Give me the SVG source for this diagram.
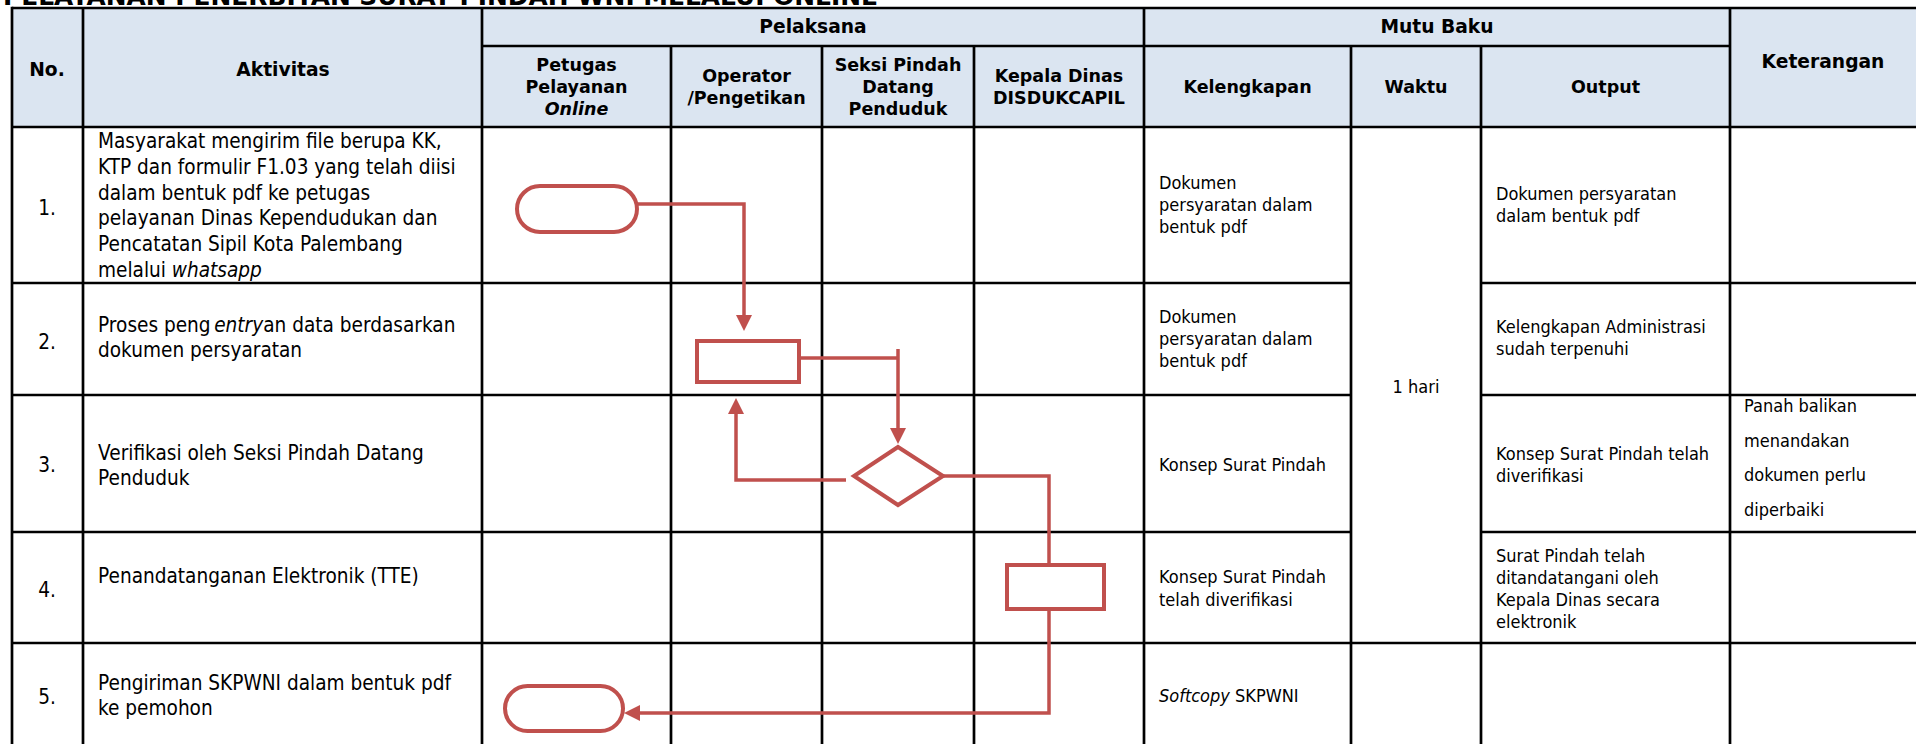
<svg xmlns="http://www.w3.org/2000/svg" width="1916" height="744" viewBox="0 0 1916 744">
<style>
.g line{stroke:#000;stroke-width:2.7}
.h{font-family:"DejaVu Sans",Verdana,sans-serif;font-weight:bold;font-size:17.5px;fill:#000;text-anchor:middle}
.H{font-size:18.7px}
.b{font-family:"DejaVu Sans",Verdana,sans-serif;font-size:20.6px;fill:#000}
.s{font-family:"DejaVu Sans",Verdana,sans-serif;font-size:18px;fill:#000}
.m{text-anchor:middle}
.i{font-style:italic}
.shape{fill:#fff;stroke:#C0504D;stroke-width:4}
.conn path{fill:none;stroke:#C0504D;stroke-width:3.5}
</style>
<defs>
<marker id="ah" markerUnits="userSpaceOnUse" markerWidth="16" markerHeight="16" refX="8" refY="8" orient="auto">
<path d="M0,0 L16,8 L0,16 z" fill="#C0504D"/>
</marker>
</defs>
<rect width="1916" height="744" fill="#fff"/>
<text x="3" y="5" font-family="DejaVu Sans, Verdana, sans-serif" font-weight="bold" font-size="24.5" textLength="875" lengthAdjust="spacingAndGlyphs">PELAYANAN PENERBITAN SURAT PINDAH WNI MELALUI ONLINE</text>
<g id="table">
<rect x="12" y="8" width="1904" height="119" fill="#DBE5F1"/>
<g class="g">
<line x1="12" y1="8" x2="1916" y2="8"/>
<line x1="482" y1="46" x2="1730" y2="46"/>
<line x1="12" y1="127" x2="1916" y2="127"/>
<line x1="12" y1="283" x2="1351" y2="283"/>
<line x1="1481" y1="283" x2="1916" y2="283"/>
<line x1="12" y1="395" x2="1351" y2="395"/>
<line x1="1481" y1="395" x2="1916" y2="395"/>
<line x1="12" y1="532" x2="1351" y2="532"/>
<line x1="1481" y1="532" x2="1916" y2="532"/>
<line x1="12" y1="643" x2="1916" y2="643"/>
<line x1="12" y1="6.7" x2="12" y2="744"/>
<line x1="83" y1="8" x2="83" y2="744"/>
<line x1="482" y1="8" x2="482" y2="744"/>
<line x1="671" y1="46" x2="671" y2="744"/>
<line x1="822" y1="46" x2="822" y2="744"/>
<line x1="974" y1="46" x2="974" y2="744"/>
<line x1="1144" y1="8" x2="1144" y2="744"/>
<line x1="1351" y1="46" x2="1351" y2="744"/>
<line x1="1481" y1="46" x2="1481" y2="744"/>
<line x1="1730" y1="8" x2="1730" y2="744"/>
</g>
<text class="h H" x="47" y="76">No.</text>
<text class="h H" x="283" y="76">Aktivitas</text>
<text class="h H" x="813" y="33">Pelaksana</text>
<text class="h H" x="1437" y="33">Mutu Baku</text>
<text class="h H" x="1823" y="68">Keterangan</text>
<text class="h"><tspan x="576.5" y="71">Petugas</tspan><tspan x="576.5" y="93">Pelayanan</tspan><tspan x="576.5" y="115" font-style="italic">Online</tspan></text>
<text class="h"><tspan x="746.5" y="82">Operator</tspan><tspan x="746.5" y="104">/Pengetikan</tspan></text>
<text class="h"><tspan x="898" y="71">Seksi Pindah</tspan><tspan x="898" y="93">Datang</tspan><tspan x="898" y="115">Penduduk</tspan></text>
<text class="h"><tspan x="1059" y="82">Kepala Dinas</tspan><tspan x="1059" y="104">DISDUKCAPIL</tspan></text>
<text class="h" x="1247.5" y="93">Kelengkapan</text>
<text class="h" x="1416" y="93">Waktu</text>
<text class="h" x="1605.5" y="93">Output</text>

<text class="b m" transform="translate(47,215) scale(0.9,1)">1.</text>
<text class="b m" transform="translate(47,349) scale(0.9,1)">2.</text>
<text class="b m" transform="translate(47,472) scale(0.9,1)">3.</text>
<text class="b m" transform="translate(47,597) scale(0.9,1)">4.</text>
<text class="b m" transform="translate(47,704) scale(0.9,1)">5.</text>

<text class="b" transform="translate(98,148) scale(0.9,1)"><tspan x="0" y="0">Masyarakat mengirim file berupa KK,</tspan><tspan x="0" y="25.8">KTP dan formulir F1.03 yang telah diisi</tspan><tspan x="0" y="51.6">dalam bentuk pdf ke petugas</tspan><tspan x="0" y="77.4">pelayanan Dinas Kependudukan dan</tspan><tspan x="0" y="103.2">Pencatatan Sipil Kota Palembang</tspan><tspan x="0" y="129">melalui <tspan class="i">whatsapp</tspan></tspan></text>
<text class="b" transform="translate(98,332) scale(0.9,1)"><tspan x="0" y="0">Proses peng<tspan class="i" dx="4">entry</tspan>an data berdasarkan</tspan><tspan x="0" y="25">dokumen persyaratan</tspan></text>
<text class="b" transform="translate(98,460) scale(0.9,1)"><tspan x="0" y="0">Verifikasi oleh Seksi Pindah Datang</tspan><tspan x="0" y="25">Penduduk</tspan></text>
<text class="b" transform="translate(98,583) scale(0.9,1)">Penandatanganan Elektronik (TTE)</text>
<text class="b" transform="translate(98,690) scale(0.9,1)"><tspan x="0" y="0">Pengiriman SKPWNI dalam bentuk pdf</tspan><tspan x="0" y="25">ke pemohon</tspan></text>

<text class="s" transform="translate(1159,189) scale(0.9,1)"><tspan x="0" y="0">Dokumen</tspan><tspan x="0" y="22">persyaratan dalam</tspan><tspan x="0" y="44">bentuk pdf</tspan></text>
<text class="s" transform="translate(1159,323) scale(0.9,1)"><tspan x="0" y="0">Dokumen</tspan><tspan x="0" y="22">persyaratan dalam</tspan><tspan x="0" y="44">bentuk pdf</tspan></text>
<text class="s" transform="translate(1159,471) scale(0.9,1)">Konsep Surat Pindah</text>
<text class="s" transform="translate(1159,583) scale(0.9,1)"><tspan x="0" y="0">Konsep Surat Pindah</tspan><tspan x="0" y="23">telah diverifikasi</tspan></text>
<text class="s" transform="translate(1159,702) scale(0.9,1)"><tspan class="i">Softcopy</tspan> SKPWNI</text>

<text class="s m" transform="translate(1416,393) scale(0.9,1)">1 hari</text>

<text class="s" transform="translate(1496,200) scale(0.9,1)"><tspan x="0" y="0">Dokumen persyaratan</tspan><tspan x="0" y="22">dalam bentuk pdf</tspan></text>
<text class="s" transform="translate(1496,333) scale(0.9,1)"><tspan x="0" y="0">Kelengkapan Administrasi</tspan><tspan x="0" y="22">sudah terpenuhi</tspan></text>
<text class="s" transform="translate(1496,460) scale(0.9,1)"><tspan x="0" y="0">Konsep Surat Pindah telah</tspan><tspan x="0" y="22">diverifikasi</tspan></text>
<text class="s" transform="translate(1496,562) scale(0.9,1)"><tspan x="0" y="0">Surat Pindah telah</tspan><tspan x="0" y="22">ditandatangani oleh</tspan><tspan x="0" y="44">Kepala Dinas secara</tspan><tspan x="0" y="66">elektronik</tspan></text>

<text class="s" transform="translate(1744,412) scale(0.9,1)"><tspan x="0" y="0">Panah balikan</tspan><tspan x="0" y="35">menandakan</tspan><tspan x="0" y="69">dokumen perlu</tspan><tspan x="0" y="104">diperbaiki</tspan></text>
</g>

<g id="connectors" class="conn">
<path d="M637,204 H744 V323" marker-end="url(#ah)"/>
<path d="M799,358 H898"/>
<path d="M898,349 V436" marker-end="url(#ah)"/>
<path d="M846,480 H736 V406" marker-end="url(#ah)"/>
<path d="M943,476 H1049 V565"/>
<path d="M1049,609 V713 H632" marker-end="url(#ah)"/>
</g>
<g id="t1"><rect class="shape" x="517" y="186" width="120" height="46" rx="23" ry="23"/></g>
<g id="p2"><rect class="shape" x="697" y="341" width="102" height="41"/></g>
<g id="d3"><polygon class="shape" points="898,447 943,476 898,505 854,476"/></g>
<g id="p4"><rect class="shape" x="1007" y="565" width="97" height="44"/></g>
<g id="t5"><rect class="shape" x="505" y="686" width="118" height="45" rx="22.5" ry="22.5"/></g>
</svg>
